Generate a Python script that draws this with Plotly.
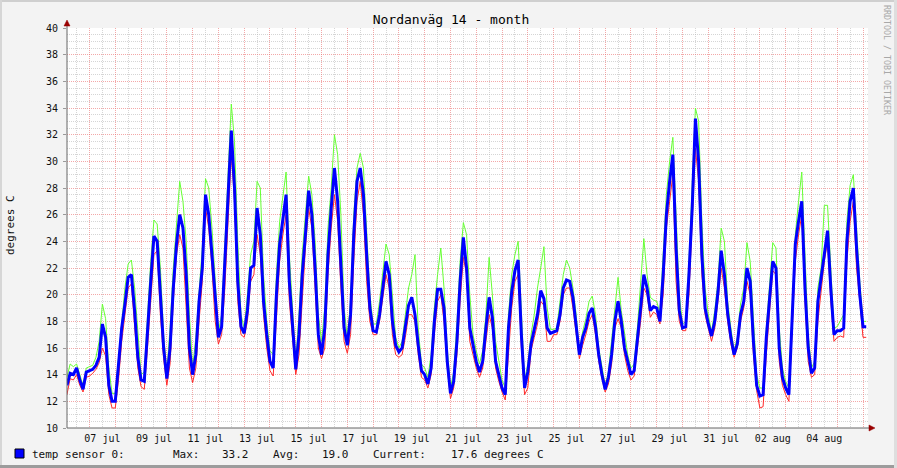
import pandas as pd
import plotly.graph_objects as go

# 3-hourly samples starting 06 jul 03:00 (one row per day)
AVG_TEMP = [
    13.2, 14.1, 14.0, 14.5, 13.6, 12.9, 14.2,
    14.3, 14.4, 14.7, 15.3, 17.8, 16.8, 13.2, 12.0,
    12.0, 14.5, 17.5, 19.3, 21.3, 21.5, 18.8, 15.3,
    13.6, 13.5, 17.5, 21.0, 24.4, 24.0, 20.0, 16.0,
    13.7, 16.0, 20.5, 23.8, 26.0, 25.0, 21.5, 16.0,
    14.0, 15.5, 19.5, 22.0, 27.5, 26.0, 23.0, 19.5,
    16.8, 17.6, 22.5, 27.5, 32.3, 28.0, 21.0, 17.6,
    17.1, 18.8, 22.0, 22.2, 26.5, 24.5, 19.5, 17.0,
    15.0, 14.5, 20.0, 23.8, 25.8, 27.5, 21.0, 17.8,
    14.4, 17.0, 21.5, 24.5, 27.8, 26.0, 22.0, 17.0,
    15.5, 17.5, 23.0, 26.5, 29.5, 27.0, 22.0, 17.5,
    16.2, 18.5, 24.5, 28.5, 29.5, 27.5, 23.0, 19.0,
    17.3, 17.2, 18.5, 20.5, 22.5, 21.5, 18.0, 16.2,
    15.7, 16.0, 17.5, 19.2, 19.8, 18.5, 16.2, 14.3,
    14.0, 13.3, 14.5, 18.0, 20.4, 20.4, 19.0, 15.0,
    12.6, 13.5, 16.5, 21.0, 24.3, 22.0, 17.5, 16.2,
    15.0, 14.2, 15.0, 17.5, 19.8, 18.3, 15.0, 14.0,
    13.0, 12.5, 17.5, 20.2, 21.8, 22.6, 17.0, 13.0,
    14.2, 16.3, 17.5, 18.5, 20.3, 19.7, 17.5, 17.1,
    17.2, 17.3, 18.5, 20.5, 21.1, 21.0, 19.8, 17.5,
    15.5, 16.8, 17.5, 18.6, 19.0, 17.6, 15.5, 14.0,
    12.9, 13.8, 15.5, 18.0, 19.5, 18.0, 16.0, 15.0,
    14.0, 14.3, 16.5, 19.0, 21.5, 20.5, 18.8, 19.1,
    19.0, 18.0, 21.5, 26.0, 28.5, 30.5, 23.5, 18.8,
    17.5, 17.6, 21.5, 26.5, 33.2, 30.0, 23.0, 19.0,
    17.8, 16.9, 18.0, 20.2, 23.3, 21.5, 18.6, 16.8,
    15.5, 16.3, 18.5, 19.5, 22.0, 21.0, 16.5, 13.2,
    12.4, 12.5, 16.8, 20.0, 22.5, 22.0, 16.0, 13.8,
    13.0, 12.5, 18.5, 23.8, 25.5, 27.0, 20.5, 16.0,
    14.1, 14.5, 19.5, 21.3, 23.0, 24.8, 20.5, 17.0,
    17.3, 17.3, 17.5, 24.0, 27.0, 28.0, 23.5, 20.0,
    17.6, 17.6,
]

MAX_TEMP = [
    13.8, 14.8, 14.6, 14.8, 14.0, 13.2, 14.5,
    14.6, 14.7, 15.3, 16.5, 19.3, 18.2, 14.5, 12.6,
    12.6, 15.3, 18.4, 20.5, 22.3, 22.6, 20.5, 17.0,
    14.0, 14.2, 18.6, 22.5, 25.6, 25.3, 22.0, 17.0,
    14.2, 17.5, 22.0, 25.0, 28.5, 27.0, 24.0, 18.5,
    14.5, 16.8, 20.5, 23.5, 28.7, 28.0, 25.0, 21.0,
    17.2, 18.5, 24.0, 28.5, 34.3, 31.5, 24.0, 18.5,
    17.5, 20.0, 23.0, 24.0, 28.5, 28.0, 21.5, 18.0,
    15.8, 15.5, 21.5, 25.5, 27.5, 29.2, 23.0, 19.0,
    15.0, 18.5, 23.0, 26.0, 28.9, 27.5, 24.0, 18.5,
    16.5, 19.0, 25.0, 28.0, 32.0, 30.5, 26.0, 19.0,
    16.8, 19.5, 26.0, 29.5, 30.6, 29.5, 25.0, 20.0,
    17.8, 17.8, 19.5, 21.5, 23.8, 23.0, 19.5, 16.8,
    16.0, 16.5, 18.5, 20.5, 21.5, 23.0, 17.5, 14.8,
    14.5, 13.8, 15.5, 19.0, 21.5, 23.5, 20.5, 16.0,
    13.0, 14.2, 17.8, 22.5, 25.4, 24.5, 20.0, 17.0,
    15.8, 14.8, 15.8, 18.5, 22.8, 20.0, 16.5, 15.0,
    13.6, 13.0, 18.5, 21.5, 23.0, 24.0, 19.0, 13.5,
    14.8, 17.0, 18.5, 20.5, 22.0, 23.6, 19.0, 17.4,
    17.4, 17.5, 19.5, 21.5, 22.6, 22.0, 20.5, 18.5,
    15.8, 17.2, 18.2, 19.5, 19.9, 18.5, 16.0, 14.5,
    13.2, 14.2, 16.5, 18.8, 21.3, 18.8, 17.0, 15.5,
    14.5, 14.8, 17.5, 20.5, 24.2, 21.5, 19.8, 19.6,
    19.5, 18.6, 23.0, 27.5, 30.0, 31.8, 26.0, 20.0,
    17.8, 18.0, 22.5, 28.5, 34.0, 33.0, 25.5, 20.5,
    18.5, 17.2, 18.8, 21.0, 25.0, 24.0, 19.5, 17.5,
    15.8, 16.8, 19.3, 20.5, 23.9, 22.5, 18.0, 14.0,
    13.0, 13.0, 17.5, 21.0, 23.9, 23.5, 17.5, 14.5,
    13.5, 13.0, 19.5, 24.5, 27.0, 29.2, 23.0, 17.0,
    14.5, 15.0, 20.5, 22.0, 26.7, 26.7, 22.0, 17.5,
    17.6, 18.0, 18.5, 25.5, 28.2, 29.0, 25.0, 21.0,
    18.0, 18.0,
]

MIN_TEMP = [
    12.5, 13.7, 13.6, 14.0, 13.2, 12.7, 13.8,
    13.9, 14.1, 14.4, 14.9, 16.0, 15.4, 12.5, 11.5,
    11.5, 13.6, 16.5, 18.5, 20.5, 20.8, 17.5, 14.5,
    13.1, 12.9, 16.0, 19.8, 23.0, 23.3, 18.5, 15.2,
    13.2, 14.8, 19.5, 23.0, 24.5, 23.5, 19.0, 14.5,
    13.4, 14.5, 18.0, 21.0, 26.5, 25.0, 22.0, 18.0,
    16.3, 17.0, 20.5, 26.0, 30.5, 27.0, 19.5, 17.0,
    16.8, 18.0, 21.0, 21.5, 24.5, 23.0, 18.5, 16.0,
    14.3, 13.9, 18.5, 22.5, 24.5, 26.0, 19.5, 16.5,
    14.0, 15.5, 20.0, 23.5, 26.5, 25.0, 20.5, 16.0,
    15.2, 16.0, 21.5, 25.0, 27.5, 25.5, 20.5, 16.5,
    15.6, 17.0, 22.5, 27.0, 28.5, 26.0, 21.0, 18.0,
    17.0, 17.0, 18.0, 19.8, 21.5, 20.5, 17.0, 15.5,
    15.3, 15.5, 16.8, 18.5, 18.5, 18.0, 15.5, 13.8,
    13.6, 13.0, 14.0, 17.0, 19.5, 20.0, 18.0, 14.5,
    12.2, 13.0, 15.5, 19.5, 22.8, 21.5, 16.5, 15.5,
    14.5, 13.8, 14.5, 16.5, 18.5, 17.5, 14.5, 13.5,
    12.7, 12.1, 16.0, 19.0, 21.0, 21.5, 16.0, 12.5,
    13.0, 15.8, 16.8, 17.8, 19.5, 19.2, 16.5, 16.5,
    17.0, 17.0, 18.0, 20.0, 20.5, 20.5, 19.0, 17.0,
    15.2, 16.2, 17.0, 18.0, 18.5, 17.0, 15.0, 13.7,
    12.7, 13.3, 14.8, 17.5, 18.2, 17.5, 15.5, 14.3,
    13.6, 13.9, 15.8, 18.0, 20.5, 20.0, 18.3, 18.7,
    18.5, 17.8, 20.0, 25.0, 27.0, 29.0, 21.0, 18.0,
    17.3, 17.3, 20.0, 25.0, 31.0, 28.5, 21.5, 18.5,
    17.5, 16.5, 17.5, 19.5, 22.0, 20.5, 18.0, 16.3,
    15.3, 16.0, 18.0, 19.0, 21.0, 20.0, 15.5, 12.8,
    11.5, 11.6, 15.5, 19.0, 21.8, 21.5, 15.0, 13.2,
    12.5, 12.0, 17.0, 22.5, 24.5, 26.0, 19.5, 15.0,
    13.8, 14.0, 18.0, 20.5, 22.5, 24.0, 19.5, 16.5,
    16.8, 16.9, 16.8, 22.5, 25.5, 27.0, 22.0, 19.5,
    16.8, 16.8,
]

START = "2012-07-06 03:00"
STEP = "3h"
X_RANGE = ["2012-07-06 03:04", "2012-08-06 04:39"]

DAY_LABELS = ["07 jul", "09 jul", "11 jul", "13 jul", "15 jul", "17 jul", "19 jul",
              "21 jul", "23 jul", "25 jul", "27 jul", "29 jul", "31 jul",
              "02 aug", "04 aug"]
DAY_LABEL_DATES = ["2012-07-07", "2012-07-09", "2012-07-11", "2012-07-13",
                   "2012-07-15", "2012-07-17", "2012-07-19", "2012-07-21",
                   "2012-07-23", "2012-07-25", "2012-07-27", "2012-07-29",
                   "2012-07-31", "2012-08-02", "2012-08-04"]

TITLE = "Nordanväg 14 - month"
Y_TITLE = "degrees C"
WATERMARK = "RRDTOOL / TOBI OETIKER"
LEGEND_LABEL = "temp sensor 0:"
STATS = [("Max:", 33.2), ("Avg:", 19.0), ("Current:", 17.6)]
UNIT = "degrees C"

FONT = "DejaVu Sans Mono"
W, H = 897, 468
L, R, T, B = 67, 868, 28, 428   # plot area in pixels


def px(x):
    return (x - L) / (R - L)


def py(y):
    return (B - y) / (B - T)


times = pd.date_range(START, periods=len(AVG_TEMP), freq=STEP)
label_ticks = pd.to_datetime(DAY_LABEL_DATES) + pd.Timedelta(hours=12)

fig = go.Figure()
fig.add_trace(go.Scatter(x=times, y=MAX_TEMP, mode="lines",
                         line=dict(color="#66ff33", width=1), showlegend=False))
fig.add_trace(go.Scatter(x=times, y=MIN_TEMP, mode="lines",
                         line=dict(color="#ff2a2a", width=1), showlegend=False))
fig.add_trace(go.Scatter(x=times, y=AVG_TEMP, mode="lines",
                         line=dict(color="#0000ff", width=3), showlegend=False))
# carrier for the label axis
fig.add_trace(go.Scatter(x=[times[0]], y=[None], xaxis="x2", mode="lines",
                         showlegend=False, hoverinfo="skip"))

grid_major = "rgba(235,110,110,0.6)"
grid_minor = "rgba(185,185,185,0.6)"
grid_dash = "1px,1px"

fig.update_layout(
    width=W, height=H,
    margin=dict(l=L, r=W - R, t=T, b=H - B, pad=0),
    paper_bgcolor="#f3f3f3", plot_bgcolor="#ffffff",
    font=dict(family=FONT, size=10, color="#111111"),
    title=dict(text=TITLE, x=451 / W, y=1 - 19 / H, xref="container", yref="container",
               xanchor="center", yanchor="middle",
               font=dict(family=FONT, size=13, color="#000000")),
    xaxis=dict(
        type="date", range=X_RANGE, showticklabels=False, ticks="",
        dtick=86400000, tick0="2012-07-07",
        showgrid=True, gridcolor=grid_major, griddash=grid_dash, gridwidth=1,
        minor=dict(dtick=43200000, tick0="2012-07-07", showgrid=True,
                   gridcolor=grid_minor, griddash=grid_dash, gridwidth=1),
        zeroline=False, showline=False,
    ),
    xaxis2=dict(
        type="date", range=X_RANGE, overlaying="x", anchor="y", side="bottom",
        tickmode="array", tickvals=label_ticks, ticktext=DAY_LABELS,
        showgrid=False, ticks="", zeroline=False, showline=False,
        tickfont=dict(family=FONT, size=10, color="#111111"),
        ticklabelstandoff=3,
    ),
    yaxis=dict(
        range=[10, 40], dtick=2, tick0=10,
        showgrid=True, gridcolor=grid_major, griddash=grid_dash, gridwidth=1,
        minor=dict(dtick=0.5, tick0=10, showgrid=True,
                   gridcolor=grid_minor, griddash=grid_dash, gridwidth=1),
        ticks="outside", ticklen=3, tickcolor="#999999",
        tickfont=dict(family=FONT, size=10, color="#111111"),
        ticklabelstandoff=3,
        zeroline=False, showline=False,
    ),
)

shapes = [
    # canvas frame
    dict(type="rect", xref="paper", yref="paper", x0=px(0), x1=px(W), y0=py(0), y1=py(2),
         fillcolor="#cfcfcf", line_width=0, layer="below"),
    dict(type="rect", xref="paper", yref="paper", x0=px(0), x1=px(2), y0=py(0), y1=py(H),
         fillcolor="#d6d6d6", line_width=0, layer="below"),
    dict(type="rect", xref="paper", yref="paper", x0=px(0), x1=px(W), y0=py(H - 3), y1=py(H),
         fillcolor="#9c9c9c", line_width=0, layer="below"),
    dict(type="rect", xref="paper", yref="paper", x0=px(W - 3), x1=px(W), y0=py(0), y1=py(H),
         fillcolor="#dedede", line_width=0, layer="below"),
    # axes
    dict(type="line", xref="paper", yref="paper", x0=px(L), x1=px(L), y0=py(B), y1=py(24),
         line=dict(color="#666666", width=1)),
    dict(type="line", xref="paper", yref="paper", x0=px(L), x1=px(871), y0=py(B), y1=py(B),
         line=dict(color="#666666", width=1)),
    dict(type="path", xref="paper", yref="paper",
         path=f"M {px(L)},{py(20)} L {px(L - 3)},{py(26)} L {px(L + 3)},{py(26)} Z",
         fillcolor="#990000", line=dict(color="#990000", width=0.5)),
    dict(type="path", xref="paper", yref="paper",
         path=f"M {px(875)},{py(B)} L {px(869)},{py(B - 3)} L {px(869)},{py(B + 3)} Z",
         fillcolor="#990000", line=dict(color="#990000", width=0.5)),
    # legend swatch
    dict(type="rect", xref="paper", yref="paper", x0=px(15), x1=px(24), y0=py(449), y1=py(458),
         fillcolor="#0000ff", line=dict(color="#000000", width=1)),
]

annotations = [
    dict(text=Y_TITLE, x=px(10), y=py(225), textangle=-90,
         font=dict(family=FONT, size=11, color="#111111")),
    dict(text=WATERMARK, x=px(887), y=py(60), textangle=90,
         font=dict(family=FONT, size=8.3, color="#a8a8a8")),
    dict(text=LEGEND_LABEL, x=px(30), y=py(454), xanchor="left",
         font=dict(family=FONT, size=11, color="#111111")),
]
stat_pos = [(171, 220), (271, 320), (371, 449)]
for (name, val), (xl, xv) in zip(STATS, stat_pos):
    annotations.append(dict(text=name, x=px(xl), y=py(454), xanchor="left",
                            font=dict(family=FONT, size=11, color="#111111")))
    txt = f"{val:.1f}" + (f" {UNIT}" if name == "Current:" else "")
    annotations.append(dict(text=txt, x=px(xv), y=py(454), xanchor="left",
                            font=dict(family=FONT, size=11, color="#111111")))
for a in annotations:
    a.update(xref="paper", yref="paper", showarrow=False, yanchor="middle")
    a.setdefault("xanchor", "center")

fig.update_layout(shapes=shapes, annotations=annotations)

fig.write_html("out.html", config={"displayModeBar": False},
               post_script="document.body.style.margin='0';")
